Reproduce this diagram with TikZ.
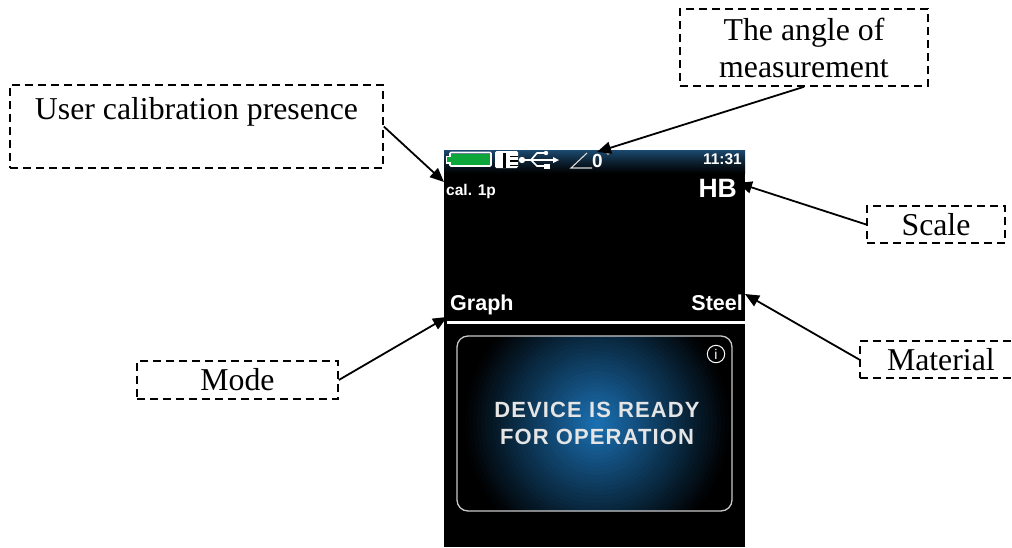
\documentclass[tikz,border=0pt]{standalone}
\usepackage{fontspec}
\setmainfont{Liberation Serif}
\newfontfamily\uisans{Liberation Sans}
\usetikzlibrary{arrows.meta}
\definecolor{barblue}{HTML}{1C4A70}
\definecolor{glowa}{HTML}{1B72B5}
\definecolor{battgreen}{HTML}{0DA63B}
\definecolor{cardline}{HTML}{C8C8C8}
\tikzset{
  callout/.style={draw=black,line width=1.6pt,dash pattern=on 8pt off 5pt,inner sep=0pt,align=center,
    font=\fontsize{31.8}{37}\selectfont,text=black},
  pointer/.style={draw=black,line width=1.8pt,-{Triangle[width=12pt,length=14pt]}},
  uitext/.style={font=\uisans\bfseries\fontsize{#1}{#1}\selectfont,text=white,inner sep=0pt},
  icon/.style={draw=white,line width=1.7pt},
}
\begin{document}
\begin{tikzpicture}[x=1pt,y=-1pt]
\useasboundingbox (0,0) rectangle (1012,547);
\clip (0,0) rectangle (1012,547);
\fill[white] (0,0) rectangle (1012,547);
% screen
\fill[black] (444,150) rectangle (745,547);
\shade[top color=barblue,bottom color=black,middle color=barblue!45!black] (444,150) rectangle (745,173);
% card
\begin{scope}
  \clip[rounded corners=11pt] (457,336) rectangle (732,511);
  \foreach \rr in {132,128,...,4}{
    \pgfmathsetmacro{\mixv}{max(0,100*(1-\rr/134))}
    \fill[glowa!\mixv!black] (597,423) circle (\rr);
  }
\end{scope}
\draw[cardline,line width=1.3pt,rounded corners=11pt] (457,336) rectangle (732,511);
% white rule
\fill[white] (447,321) rectangle (745,324);
% battery
\draw[white,line width=1.6pt,rounded corners=1pt] (450,152.5) rectangle (491,166);
\fill[white] (445.5,155.5) rectangle (450,163.5);
\fill[battgreen] (451,153.5) rectangle (490,165);
\fill[battgreen] (447,157) rectangle (452,162);
% card icon
\fill[white,rounded corners=1.5pt] (495,151) rectangle (518,168);
\fill[black] (503,153) rectangle (505.5,168);
\foreach \yy in {155.5,160,164.5}{\fill[black] (510,\yy) rectangle (518,\yy+1.6);}
% usb
\fill[white] (522,160) circle (3.2);
\draw[icon] (522,160) -- (556,160);
\draw[icon] (531,160) -- (537,153) -- (545,153);
\draw[icon] (531,160) -- (537,166) -- (545,166);
\fill[white] (546,153) circle (2.2);
\fill[white] (544,163.5) rectangle (549.5,168.5);
\fill[white] (559,160) -- (553,157) -- (553,163) -- cycle;
% angle icon
\draw[white!85!black,line width=1.1pt] (587,153) -- (571,168) -- (592,168);
\node[uitext=19,anchor=base west] (zerodeg) at (592,167) {0};
\draw[white!70!black,line width=.7pt] (608,153.5) circle (1.2);
% texts on screen
\node[uitext=15.5,anchor=base east] (clock) at (742,164) {11:31};
\node[uitext=15.5,anchor=base west] (cal) at (446,195) {cal. 1p};
\node[uitext=26.5,anchor=base east] (hb) at (737,197) {HB};
\node[uitext=21.5,anchor=base west] (graph) at (450,310) {Graph};
\node[uitext=21.5,anchor=base east] (steel) at (743,310) {Steel};
\draw[white,line width=1pt] (716,354) circle (8.7);
\node[font=\uisans\fontsize{14}{14}\selectfont,text=white,inner sep=0pt] (info) at (716,354) {i};
\node[font=\uisans\bfseries\fontsize{22}{27}\selectfont,text=white!90!black,align=center,inner sep=0pt] (ready) at (597,423.5)
  {\addfontfeature{LetterSpace=5}DEVICE IS READY\\\addfontfeature{LetterSpace=5}FOR OPERATION};
% callouts
\node[callout,minimum width=373pt,minimum height=83pt] (user) at (196.5,126.5) {User calibration presence\\\mbox{}};
\node[callout,minimum width=248pt,minimum height=77pt] (anglebox) at (804,47.5) {The angle of\\measurement};
\node[callout,minimum width=138pt,minimum height=37pt] (scale) at (936,224.5) {Scale};
\node[callout,minimum width=200pt,minimum height=37pt,text width=160pt,align=left] (material) at (960,359.5) {\hspace*{7pt}Material};
\node[callout,minimum width=201pt,minimum height=38pt] (mode) at (237.5,380) {Mode};
% targets
\coordinate (tuser) at (444,182);
\coordinate (tangle) at (597,152);
\coordinate (tscale) at (738,183);
\coordinate (tmaterial) at (745,294);
\coordinate (tmode) at (447,317);
\draw[pointer] (user.east) -- (tuser);
\draw[pointer] (anglebox.south) -- (tangle);
\draw[pointer] (scale.west) -- (tscale);
\draw[pointer] (material.west) -- (tmaterial);
\draw[pointer] (mode.east) -- (tmode);
\end{tikzpicture}
\end{document}
